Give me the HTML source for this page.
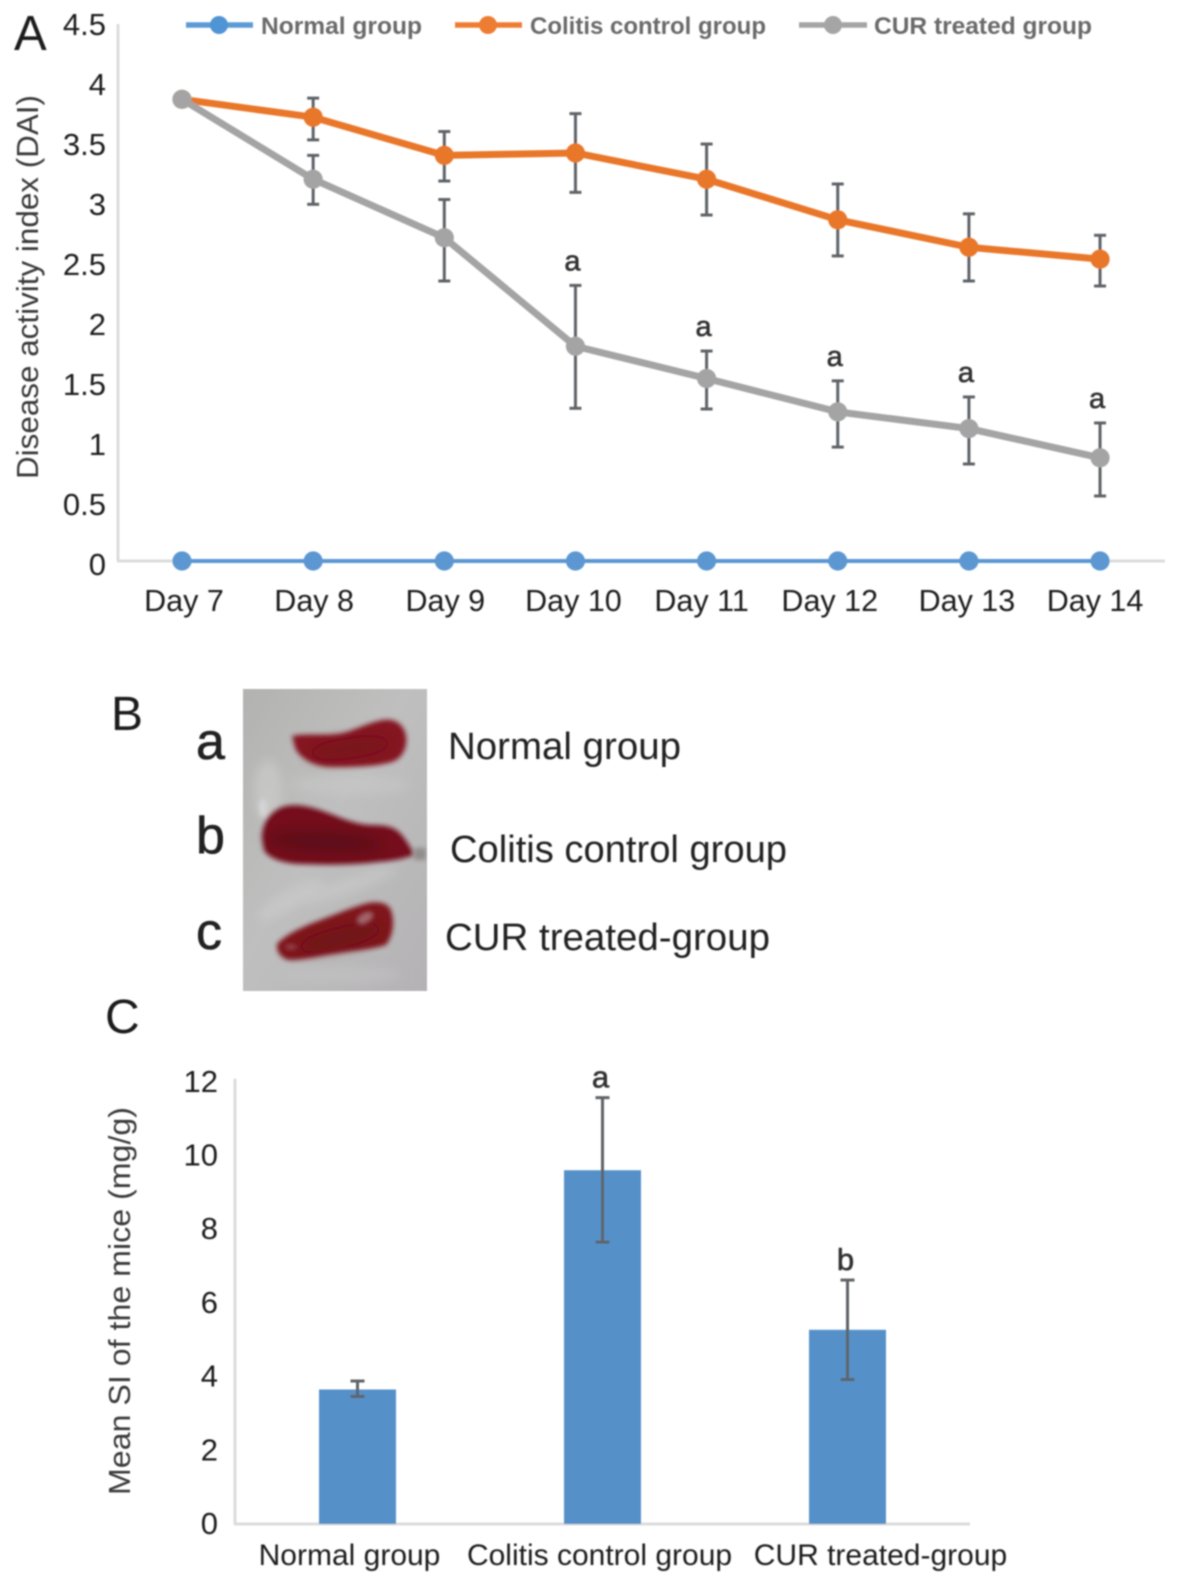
<!DOCTYPE html>
<html lang="en">
<head>
<meta charset="utf-8">
<title>DAI, spleen and SI figure</title>
<style>
html,body{margin:0;padding:0;background:#fff;}
svg{display:block;}
text{font-family:"Liberation Sans",sans-serif;}
</style>
</head>
<body>
<svg id="figure" xmlns="http://www.w3.org/2000/svg" width="1181" height="1585" viewBox="0 0 1181 1585">
  <defs>
    <filter id="soft" x="-2%" y="-2%" width="104%" height="104%"><feGaussianBlur stdDeviation="0.75"/></filter>
    <filter id="photoBlur" x="-15%" y="-15%" width="130%" height="130%"><feGaussianBlur stdDeviation="2.4"/></filter>
    <filter id="innerBlur" x="-40%" y="-100%" width="180%" height="300%"><feGaussianBlur stdDeviation="7"/></filter>
    <filter id="photoBlurWide" x="-30%" y="-30%" width="160%" height="160%"><feGaussianBlur stdDeviation="5"/></filter>
    <clipPath id="photoClip"><rect x="243" y="689" width="184" height="302"/></clipPath>
    <linearGradient id="paper" x1="0" y1="0" x2="1" y2="1">
      <stop offset="0" stop-color="#b2b2b0"/>
      <stop offset="0.45" stop-color="#bfbfbf"/>
      <stop offset="1" stop-color="#b4b2b4"/>
    </linearGradient>
  </defs>
  <rect width="1181" height="1585" fill="#fff"/>
  <g id="root" filter="url(#soft)">

    <text x="14" y="50" font-size="49" fill="#1e1e1e">A</text>
    <g id="panelA"></g>
    <text transform="translate(38,479) rotate(-90)" font-size="31" fill="#3a3a3a" textLength="384" lengthAdjust="spacingAndGlyphs">Disease activity index (DAI)</text>

    <g>
      <g>
        <line x1="186" y1="25" x2="253" y2="25" stroke="#5b9bd5" stroke-width="5.5"/>
        <circle cx="219" cy="25" r="9" fill="#4f94d4"/>
        <text x="261" y="34" font-size="24.5" font-weight="bold" fill="#6a6a6a" textLength="161" lengthAdjust="spacingAndGlyphs">Normal group</text>
      </g>
      <g>
        <line x1="455" y1="25" x2="522" y2="25" stroke="#ed7d31" stroke-width="5.5"/>
        <circle cx="488" cy="25" r="9" fill="#ed7d31"/>
        <text x="530" y="34" font-size="24.5" font-weight="bold" fill="#6a6a6a" textLength="236" lengthAdjust="spacingAndGlyphs">Colitis control group</text>
      </g>
      <g>
        <line x1="799" y1="25" x2="867" y2="25" stroke="#a5a5a5" stroke-width="5.5"/>
        <circle cx="833" cy="25" r="9" fill="#a5a5a5"/>
        <text x="874" y="34" font-size="24.5" font-weight="bold" fill="#6a6a6a" textLength="218" lengthAdjust="spacingAndGlyphs">CUR treated group</text>
      </g>
    </g>

    <text x="111" y="730" font-size="48" fill="#1e1e1e">B</text>
    <text x="196" y="759" font-size="52" fill="#222" stroke="#222" stroke-width="0.6">a</text>
    <text x="196" y="853" font-size="52" fill="#222" stroke="#222" stroke-width="0.6">b</text>
    <text x="196" y="949" font-size="52" fill="#222" stroke="#222" stroke-width="0.6">c</text>

    <g clip-path="url(#photoClip)">
      <rect x="243" y="689" width="184" height="302" fill="url(#paper)"/>
      <g filter="url(#photoBlurWide)" opacity="0.6">
        <ellipse cx="290" cy="900" rx="38" ry="9" fill="#cecccd" transform="rotate(-30 290 900)"/>
        <ellipse cx="350" cy="885" rx="50" ry="8" fill="#cbcbcb" transform="rotate(-20 350 885)"/>
        <ellipse cx="350" cy="785" rx="60" ry="10" fill="#c8c8c8"/>
        <ellipse cx="268" cy="790" rx="14" ry="30" fill="#cfcfcf"/>
        <ellipse cx="340" cy="975" rx="60" ry="8" fill="#c4c2c4"/>
      </g>
      <g filter="url(#photoBlur)">
        <path fill="#851520" d="M292 736 C310 732 332 738 350 731 C366 725 380 718 392 720 C404 723 408 735 406 745 C404 755 398 761 388 763 C372 767 350 767 330 767 C312 766 299 757 295 748 Z"/>
        <path fill="#74101a" d="M262 838 C262 823 270 812 282 807 C294 803 308 806 320 810 C338 816 352 824 370 825 C384 825 394 826 401 834 C407 841 412 849 414 855 C404 859 392 861 378 862 C352 865 325 865 298 864 C282 863 268 858 264 850 Z"/>
        <path fill="#7f141e" d="M277 944 C285 935 300 928 315 922 C334 915 352 907 368 903 C379 901 388 903 391 910 C395 922 393 936 386 945 C370 950 350 951 333 954 C318 956 300 961 288 960 C281 958 276 952 277 944 Z"/>
      </g>
      <g filter="url(#innerBlur)" opacity="0.55">
        <ellipse cx="350" cy="748" rx="42" ry="9" fill="#6a1019" transform="rotate(-8 350 748)"/>
        <ellipse cx="325" cy="842" rx="58" ry="10" fill="#4a0a12" transform="rotate(3 325 842)"/>
        <ellipse cx="340" cy="938" rx="44" ry="9" fill="#600e17" transform="rotate(-14 340 938)"/>
      </g>
      <g filter="url(#photoBlur)">
        <ellipse cx="263" cy="808" rx="4" ry="9" fill="#d6d6d6"/>
        <ellipse cx="365" cy="918" rx="9" ry="5" fill="#a0666c" transform="rotate(-30 365 918)"/>
        <ellipse cx="291" cy="947" rx="6" ry="2.5" fill="#94464f"/>
        <rect x="414" y="848" width="12" height="12" fill="#8f8b89"/>
      </g>
    </g>

    <text x="448" y="759" font-size="38" fill="#222" textLength="233" lengthAdjust="spacingAndGlyphs">Normal group</text>
    <text x="450" y="862" font-size="38" fill="#222" textLength="337" lengthAdjust="spacingAndGlyphs">Colitis control group</text>
    <text x="445" y="950" font-size="38" fill="#222" textLength="325" lengthAdjust="spacingAndGlyphs">CUR treated-group</text>

    <text x="105" y="1033" font-size="48" fill="#1e1e1e">C</text>
    <g id="panelC"></g>
    <text transform="translate(130,1495) rotate(-90)" font-size="31" fill="#3a3a3a" textLength="388" lengthAdjust="spacingAndGlyphs">Mean SI of the mice (mg/g)</text>
  </g>
</svg>
<script>
// ---- Panel A data ----
const days = ['Day 7','Day 8','Day 9','Day 10','Day 11','Day 12','Day 13','Day 14'];
const daiTicks = ['0','0.5','1','1.5','2','2.5','3','3.5','4','4.5'];
const normalValues = [0,0,0,0,0,0,0,0];
const colitisValues = [3.87,3.72,3.40,3.42,3.20,2.86,2.63,2.53];
const colitisHigh = [null,3.88,3.60,3.75,3.495,3.16,2.91,2.73];
const colitisLow = [null,3.53,3.185,3.09,2.90,2.557,2.347,2.305];
const curValues = [3.87,3.20,2.71,1.80,1.53,1.25,1.11,0.865];
const curHigh = [null,3.40,3.03,2.31,1.76,1.51,1.375,1.157];
const curLow = [null,2.99,2.347,1.28,1.274,0.955,0.813,0.545];
const curSig = ['','','','a','a','a','a','a'];
// ---- Panel C data ----
const groups = ['Normal group','Colitis control group','CUR treated-group'];
const siTicks = ['0','2','4','6','8','10','12'];
const siValues = [3.65,9.6,5.27];
const siHigh = [3.88,11.57,6.62];
const siLow = [3.46,7.65,3.92];
const siSig = ['','a','b'];

const NS = 'http://www.w3.org/2000/svg';
function mk(parent, tag, props, txt) {
  const el = document.createElementNS(NS, tag);
  for (const k in props) el.setAttribute(k, props[k]);
  if (txt !== undefined) el.textContent = txt;
  parent.appendChild(el);
  return el;
}

// Panel A axes
const xA = i => 182 + 131.15 * i;
const yA = v => 561 - 119.3 * v;
const yALabel = v => 575 - 120 * v;
const A = document.getElementById('panelA');

const axisAY = mk(A, 'line', {x1:118,y1:yA(4.5),x2:118,y2:yA(0),stroke:'#dcdcdc','stroke-width':3});


const axisAX = mk(A, 'line', {x1:117,y1:yA(0),x2:1165,y2:yA(0),stroke:'#dcdcdc','stroke-width':3});



daiTicks.forEach(t => {
  const el = mk(A, 'text', {x:106,y:yALabel(parseFloat(t)),'text-anchor':'end','font-size':31,fill:'#1f1f1f'}, t);
  
  
});
const dayNudge = [2,1,1,-2,-5,-8,-2,-5];
days.forEach((d,i) => {
  const el = mk(A, 'text', {x:xA(i)+dayNudge[i],y:611,'text-anchor':'middle','font-size':30.5,fill:'#1f1f1f'}, d);
  
  
});

function drawErrors(parent, hi, lo, scaleX, scaleY, cap) {
  hi.forEach((h,i) => {
    if (h === null) return;
    const x = scaleX(i), y1 = scaleY(h), y2 = scaleY(lo[i]);
    const g = mk(parent, 'g', {stroke:'#5f6468','stroke-width':3,fill:'none'});
    
    
    mk(g, 'line', {x1:x,y1:y1,x2:x,y2:y2});
    mk(g, 'line', {x1:x-cap,y1:y1,x2:x+cap,y2:y1});
    mk(g, 'line', {x1:x-cap,y1:y2,x2:x+cap,y2:y2});
  });
}
function drawSeries(parent, values, color, width, name) {
  const pts = values.map((v,i) => xA(i) + ',' + yA(v)).join(' ');
  const line = mk(parent, 'polyline', {points:pts,fill:'none',stroke:color,'stroke-width':width,'stroke-linejoin':'round'});
  
  
  values.forEach((v,i) => {
    const c = mk(parent, 'circle', {cx:xA(i),cy:yA(v),r:9.6,fill:color});
    
    
  });
}
drawSeries(A, normalValues, '#5b97d2', 4, 'normal');
drawErrors(A, colitisHigh, colitisLow, xA, yA, 6);
drawSeries(A, colitisValues, '#e9772a', 7, 'colitis');
drawErrors(A, curHigh, curLow, xA, yA, 6);
drawSeries(A, curValues, '#a4a4a4', 7, 'cur');
curSig.forEach((s,i) => {
  if (!s) return;
  const el = mk(A, 'text', {x:xA(i)-3,y:yA(curHigh[i])-15,'text-anchor':'middle','font-size':29,fill:'#333',stroke:'#333','stroke-width':0.6}, s);
  
  
});

// Panel C axes
const xC = i => 235 + 245 * (i + 0.5);
const yC = v => 1524 - 36.85 * v;
const C = document.getElementById('panelC');

const axisCY = mk(C, 'line', {x1:235,y1:yC(12)-3,x2:235,y2:yC(0),stroke:'#dcdcdc','stroke-width':3});


const axisCX = mk(C, 'line', {x1:234,y1:yC(0),x2:970,y2:yC(0),stroke:'#dcdcdc','stroke-width':3});



siTicks.forEach(t => {
  const el = mk(C, 'text', {x:218,y:yC(parseFloat(t))+10,'text-anchor':'end','font-size':31,fill:'#1f1f1f'}, t);
  
  
});
const groupNudge = [-8,-3,33];
groups.forEach((g,i) => {
  const el = mk(C, 'text', {x:xC(i)+groupNudge[i],y:1565,'text-anchor':'middle','font-size':30,fill:'#1f1f1f'}, g);
  
  
});
siValues.forEach((v,i) => {
  const bar = mk(C, 'rect', {x:xC(i)-38.5,y:yC(v),width:77,height:yC(0)-yC(v),fill:'#5591c8'});
  
  
});
drawErrors(C, siHigh, siLow, xC, yC, 7);
siSig.forEach((s,i) => {
  if (!s) return;
  const el = mk(C, 'text', {x:xC(i)-2,y:yC(siHigh[i])-10,'text-anchor':'middle','font-size':31,fill:'#333',stroke:'#333','stroke-width':0.6}, s);
  
  
});
</script>
</body>
</html>
